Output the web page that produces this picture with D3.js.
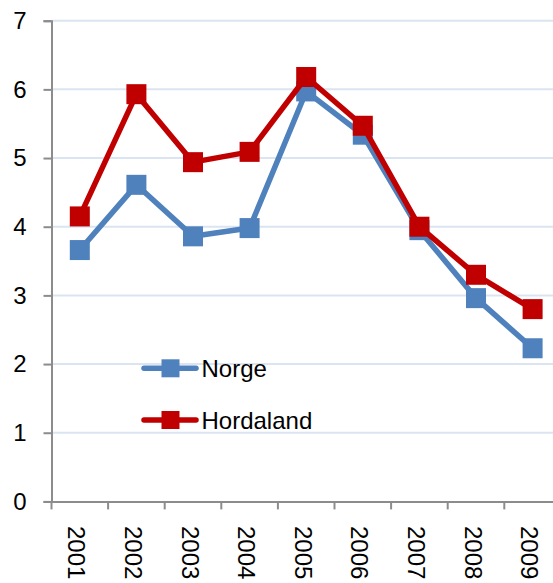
<!DOCTYPE html>
<html>
<head>
<meta charset="utf-8">
<script src="https://cdn.jsdelivr.net/npm/d3@7"></script>
<style>
  html, body { margin: 0; padding: 0; background: #fff; }
  svg { display: block; font-family: Arial, "Liberation Sans", sans-serif; }
</style>
</head>
<body>
<svg id="chart" width="553" height="583"></svg>
<script>
const years = ["2001","2002","2003","2004","2005","2006","2007","2008","2009"];
const norge = [3.66, 4.61, 3.86, 3.98, 5.97, 5.34, 3.95, 2.96, 2.23];
const hordaland = [4.15, 5.93, 4.94, 5.09, 6.18, 5.47, 4.00, 3.30, 2.80];
const yTicks = [0, 1, 2, 3, 4, 5, 6, 7];
const seriesNames = ["Norge", "Hordaland"];
const seriesColors = ["#4F81BD", "#C00000"];

(function () {
const svg = d3.select("#chart");
const plotLeft = 51.5, plotTop = 20.7, plotBottom = 501.4;
const band = 56.6;
const x = d3.scaleBand().domain(years).range([plotLeft, plotLeft + band * years.length]).padding(0);
const y = d3.scaleLinear().domain([0, 7]).range([plotBottom, plotTop]);

// gridlines
svg.append("g").selectAll("line").data(yTicks.filter(d => d > 0)).join("line")
  .attr("x1", plotLeft).attr("x2", 553)
  .attr("y1", d => y(d)).attr("y2", d => y(d))
  .attr("stroke", "#dbe5f1").attr("stroke-width", 2);

// y axis
const yAxis = svg.append("g").attr("transform", `translate(${plotLeft},0)`)
  .call(d3.axisLeft(y).tickValues(yTicks).tickSize(8).tickPadding(17).tickFormat(d3.format("d")));
yAxis.select(".domain").attr("stroke", "#8c8c8c").attr("stroke-width", 2);
yAxis.selectAll(".tick line").attr("stroke", "#8c8c8c").attr("stroke-width", 2);
yAxis.selectAll(".tick text").attr("font-size", 24).attr("fill", "#000")
  .attr("font-family", "Arial, 'Liberation Sans', sans-serif");

// x axis
const xAxis = svg.append("g").attr("transform", `translate(0,${plotBottom})`)
  .call(d3.axisBottom(x).tickSize(0).tickFormat(""));
xAxis.select(".domain").attr("stroke", "#8c8c8c").attr("stroke-width", 2);
xAxis.selectAll(".tick").remove();
const boundaries = d3.range(years.length + 1).map(i => x.range()[0] + i * x.step());
xAxis.selectAll("line.b").data(boundaries).join("line").attr("class", "b")
  .attr("x1", d => d).attr("x2", d => d).attr("y1", 0).attr("y2", 8)
  .attr("stroke", "#8c8c8c").attr("stroke-width", 2);
svg.append("g").selectAll("text").data(years).join("text")
  .attr("transform", d => `translate(${x(d) + x.bandwidth() / 2 - 3},526) rotate(90)`)
  .attr("dominant-baseline", "central")
  .attr("font-size", 24).attr("fill", "#000")
  .text(d => d);

// series
const allSeries = [norge, hordaland];
const line = d3.line().x((d, i) => x(years[i]) + x.bandwidth() / 2).y(d => y(d));
allSeries.forEach((vals, si) => {
  const g = svg.append("g");
  g.append("path").datum(vals).attr("d", line)
    .attr("fill", "none").attr("stroke", seriesColors[si]).attr("stroke-width", 5.5)
    .attr("stroke-linejoin", "round");
  g.selectAll("rect").data(vals).join("rect")
    .attr("x", (d, i) => x(years[i]) + x.bandwidth() / 2 - 10)
    .attr("y", d => y(d) - 10)
    .attr("width", 20).attr("height", 20)
    .attr("fill", seriesColors[si]);
});

// legend
const legendY = [368.3, 420];
seriesNames.forEach((name, i) => {
  const g = svg.append("g");
  g.append("line").attr("x1", 144).attr("x2", 196).attr("y1", legendY[i]).attr("y2", legendY[i])
    .attr("stroke", seriesColors[i]).attr("stroke-width", 5.5).attr("stroke-linecap", "round");
  g.append("rect").attr("x", 170.5 - 9).attr("y", legendY[i] - 9).attr("width", 18).attr("height", 18)
    .attr("fill", seriesColors[i]);
  g.append("text").attr("x", 201.5).attr("y", legendY[i] + 8.5)
    .attr("font-size", 24).attr("fill", "#000").text(name);
});
})();
</script>
</body>
</html>
